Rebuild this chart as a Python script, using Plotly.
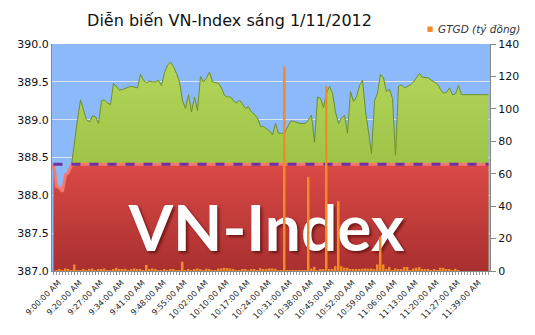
import numpy as np
import plotly.graph_objects as go

title_text = "Diễn biến VN-Index sáng 1/11/2012"
legend_text = "GTGD (tỷ đồng)"
reference_level = 388.41

vnindex = [
    388.41, 388.12, 388.10, 388.05, 388.27, 388.30, 388.40, 388.72, 389.00, 389.26,
    389.12, 389.00, 388.97, 389.05, 389.04, 388.95, 389.25, 389.26, 389.22, 389.20,
    389.48, 389.43, 389.39, 389.40, 389.42, 389.43, 389.44, 389.43, 389.42, 389.60,
    389.52, 389.49, 389.51, 389.50, 389.50, 389.52, 389.45, 389.62, 389.72, 389.76,
    389.70, 389.61, 389.50, 389.25, 389.15, 389.33, 389.10, 389.30, 389.12, 389.57,
    389.50, 389.55, 389.63, 389.50, 389.49, 389.48, 389.42, 389.32, 389.30, 389.30,
    389.25, 389.22, 389.26, 389.20, 389.15, 389.17, 389.10, 389.07, 389.02, 388.91,
    388.91, 388.88, 388.85, 388.80, 388.95, 388.82, 388.82, 388.82, 388.90, 388.98,
    388.98, 388.96, 388.95, 388.95, 388.95, 389.00, 389.06, 388.70, 389.30, 389.28,
    389.16, 389.35, 389.44, 389.35, 389.10, 388.95, 389.02, 389.06, 388.82, 389.37,
    389.24, 389.30, 389.45, 389.52, 389.11, 388.84, 388.55, 389.25, 389.35, 389.60,
    389.55, 389.37, 389.40, 389.28, 388.53, 389.44, 389.46, 389.42, 389.44, 389.46,
    389.50, 389.55, 389.61, 389.56, 389.55, 389.55, 389.52, 389.50, 389.47, 389.40,
    389.35, 389.36, 389.42, 389.33, 389.34, 389.45, 389.33, 389.33, 389.33, 389.33,
    389.33, 389.33, 389.33, 389.33, 389.33, 389.33,
]

gtgd = [
    0.0, 0.5, 1.0, 0.6, 1.6, 0.8, 0.5, 4.0, 0.4, 0.6,
    0.8, 0.5, 0.8, 1.5, 0.6, 0.8, 0.7, 1.6, 0.5, 0.6,
    0.8, 2.0, 0.9, 1.2, 1.4, 0.6, 1.0, 1.6, 1.0, 1.2,
    0.6, 3.7, 0.8, 1.6, 1.2, 0.5, 0.4, 1.0, 0.6, 0.8,
    1.0, 0.5, 0.6, 5.7, 0.6, 0.8, 0.5, 1.0, 1.6, 1.2,
    0.6, 1.4, 1.2, 0.5, 0.6, 1.5, 1.6, 2.0, 1.8, 1.5,
    0.8, 0.5, 0.6, 1.0, 1.2, 0.5, 1.0, 0.8, 0.6, 1.8,
    0.8, 1.0, 1.6, 1.6, 1.4, 0.6, 0.6, 126.0, 0.5, 0.6,
    0.6, 0.5, 0.6, 0.5, 0.6, 58.0, 1.5, 2.6, 0.5, 0.8,
    1.0, 114.0, 1.0, 0.8, 3.0, 43.0, 3.0, 2.0, 2.0, 1.0,
    0.8, 1.0, 1.2, 1.4, 1.6, 1.4, 1.6, 1.2, 4.0, 21.0,
    4.0, 1.0, 2.4, 0.6, 1.6, 1.2, 1.0, 2.5, 2.5, 0.6,
    1.6, 2.0, 2.4, 0.8, 1.0, 1.0, 0.6, 0.8, 0.6, 2.0,
    2.0, 1.0, 0.8, 0.5, 1.4, 0.6, 0.0, 0.0, 0.0, 0.0,
    0.0, 0.0, 0.0, 0.0, 0.0, 0.0,
]

tick_labels = [
    "9:00:00 AM", "9:20:00 AM", "9:27:00 AM", "9:34:00 AM", "9:41:00 AM",
    "9:48:00 AM", "9:55:00 AM", "10:02:00 AM", "10:10:00 AM", "10:17:00 AM",
    "10:24:00 AM", "10:31:00 AM", "10:38:00 AM", "10:45:00 AM", "10:52:00 AM",
    "10:59:00 AM", "11:06:00 AM", "11:13:00 AM", "11:20:00 AM", "11:27:00 AM",
    "11:39:00 AM",
]
label_step = 7

n = len(vnindex)
x = list(range(n))
vn = np.array(vnindex)
red_part = np.minimum(vn, reference_level)

fig = go.Figure()

# green index area
fig.add_trace(go.Scatter(
    x=x, y=vnindex, mode="lines", fill="tozeroy",
    line=dict(color="#6F8F2A", width=1),
    fillgradient=dict(type="vertical", start=388.3, stop=389.8,
                      colorscale=[[0, "#9CC244"], [1, "#B4D65C"]]),
    showlegend=False, hoverinfo="skip",
))
# red area below reference
fig.add_trace(go.Scatter(
    x=x, y=red_part, mode="lines", fill="tozeroy",
    line=dict(color="#F07A72", width=3),
    fillgradient=dict(type="vertical", start=387.0, stop=388.45,
                      colorscale=[[0, "#A93030"], [1, "#DC4A46"]]),
    showlegend=False, hoverinfo="skip",
))
# reference dashed line
fig.add_trace(go.Scatter(
    x=[x[0], x[-1]], y=[reference_level, reference_level], mode="lines",
    line=dict(color="#7030A0", width=3, dash="dash"),
    showlegend=False, hoverinfo="skip",
))
# big label
fig.add_trace(go.Scatter(
    x=[71.0], y=[387.47], mode="text", text=["VN-Index"],
    textfont=dict(family="Lato", size=64, color="white", weight="bold",
                  shadow="2px 2px 3px rgba(60,0,0,0.6)"),
    showlegend=False, hoverinfo="skip",
))
# volume bars
fig.add_trace(go.Bar(
    x=x, y=gtgd, yaxis="y2", name=legend_text,
    marker=dict(color="#F28A2A", line=dict(width=0)),
    width=0.65, showlegend=False,
))

fig.update_layout(
    width=535, height=335,
    margin=dict(l=52, r=45, t=44, b=64),
    paper_bgcolor="white",
    plot_bgcolor="#8BB9F9",
    font=dict(family="DejaVu Sans", color="#222222"),
    title=dict(text=title_text, x=0.429, xanchor="center", y=0.938, yanchor="middle",
               font=dict(family="DejaVu Sans", size=16, color="#111111")),
    showlegend=False,
    bargap=0.3,
    shapes=[dict(type="rect", xref="paper", yref="paper",
                 x0=0.857, x1=0.869, y0=1.053, y1=1.077,
                 fillcolor="#F28A2A", line=dict(width=0))],
    annotations=[dict(text=legend_text, xref="paper", yref="paper",
                      x=0.877, y=1.064, xanchor="left", yanchor="middle",
                      showarrow=False,
                      font=dict(family="DejaVu Sans", size=10.5, style="italic",
                                color="#333333"))],
    xaxis=dict(
        range=[-0.5, n - 0.5], tickmode="array",
        tickvals=[i * label_step for i in range(len(tick_labels))],
        ticktext=tick_labels, tickangle=-45, ticklabelshift=5,
        tickfont=dict(size=8, color="#222222"),
        showgrid=False, zeroline=False,
        showline=True, linecolor="#888888", linewidth=1,
        ticks="outside", ticklen=3, tickcolor="#888888",
        minor=dict(dtick=1, tick0=0, ticks="outside", ticklen=3, tickcolor="#999999"),
        automargin=False,
    ),
    yaxis=dict(
        range=[387.0, 390.0], dtick=0.5, tickformat=".1f",
        tickfont=dict(size=11, color="#111111"),
        showgrid=True, gridcolor="rgba(235,235,235,0.85)", gridwidth=1,
        zeroline=False, showline=True, linecolor="#888888", linewidth=1,
        ticks="", automargin=False,
    ),
    yaxis2=dict(
        range=[0, 140], dtick=20, overlaying="y", side="right",
        tickfont=dict(size=11, color="#111111"),
        showgrid=False, zeroline=False,
        showline=True, linecolor="#888888", linewidth=1,
        ticks="outside", ticklen=5, tickcolor="#888888",
        automargin=False,
    ),
)

fig.write_html("out.html")
